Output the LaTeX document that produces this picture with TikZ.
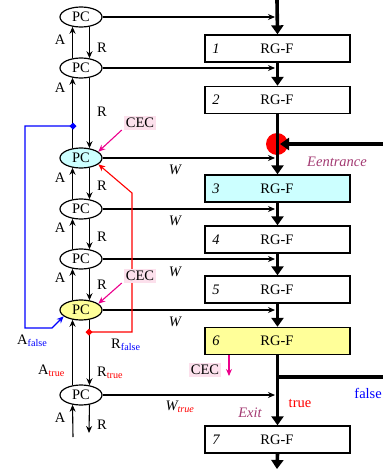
\documentclass[tikz,border=0pt]{standalone}
\usepackage{fontspec}
\setmainfont{Liberation Serif}
\usetikzlibrary{arrows.meta,shapes.geometric}
\definecolor{cyanfill}{HTML}{CCFFFF}
\definecolor{yelfill}{HTML}{FFFF99}
\definecolor{pinkbg}{HTML}{FCE0EC}
\definecolor{plum}{HTML}{A33A72}
\begin{document}
\begin{tikzpicture}[x=1pt,y=-1pt,
  every node/.style={font=\fontsize{14.5}{17}\selectfont},
  pc/.style={ellipse,draw,line width=1.2pt,minimum width=42pt,minimum height=20pt,inner sep=0pt,fill=white},
  rg/.style={draw,line width=1.4pt,minimum width=145pt,minimum height=27pt,inner sep=0pt},
  warrow/.style={line width=1.1pt,-{Stealth[length=7pt,width=6pt]}},
  mainarrow/.style={line width=3.6pt,-{Triangle[length=9pt,width=12pt]}},
  cec/.style={fill=pinkbg,inner sep=2pt},
  mag/.style={magenta,line width=1.1pt,-{Stealth[length=7pt,width=6pt]}},
  lbl/.style={inner sep=0pt},
]
\useasboundingbox (0,0) rectangle (383,469);
% main column boxes
\node[rg,fill=white]    (b1) at (277.5,48.5) {};
\node[rg,fill=white]    (b2) at (277.5,100) {};
\node[rg,fill=cyanfill] (b3) at (277.5,188.5) {};
\node[rg,fill=white]    (b4) at (277.5,239.5) {};
\node[rg,fill=white]    (b5) at (277.5,289.5) {};
\node[rg,fill=yelfill]  (b6) at (277.5,341) {};
\node[rg,fill=white]    (b7) at (277.5,439.5) {};
\foreach \i/\y in {1/48.5,2/100,3/188.5,4/239.5,5/289.5,6/341,7/439.5}{
  \node[lbl] (n\i) at (216,\y) {\itshape \i};
  \node[lbl] (t\i) at (277,\y) {RG-F};
}
% red entrance dot
\node[circle,fill=red,minimum size=22pt,inner sep=0pt] (dot) at (277,144) {};
% main thick line
\coordinate (top) at (277,0);
\coordinate (bot) at (277,469);
\coordinate (br) at (277,377);
\coordinate (brR) at (383,377);
\coordinate (entr) at (383,144);
\draw[mainarrow] (top) -- (b1.north);
\draw[mainarrow] (b1.south) -- (b2.north);
\draw[mainarrow] (b2.south) -- (b3.north);
\draw[mainarrow] (b3.south) -- (b4.north);
\draw[mainarrow] (b4.south) -- (b5.north);
\draw[mainarrow] (b5.south) -- (b6.north);
\draw[mainarrow] (b6.south) -- (b7.north);
\draw[mainarrow] (b7.south) -- (bot);
\draw[line width=3.6pt] (br) -- (brR);
\draw[mainarrow] (entr) -- ([xshift=3pt]dot.center);
\node[lbl,text=plum] (ent) at (337,162) {\itshape Eentrance};
\node[lbl,text=plum] (exit) at (250,413) {\itshape Exit};
\node[lbl,text=red] (tru) at (300,403) {true};
\node[lbl,text=blue,anchor=east] (fal) at (382,393) {false};
% PC column
\node[pc] (pc0) at (81,17) {PC};
\node[pc] (pc1) at (81,68) {PC};
\node[pc,fill=cyanfill] (pc2) at (81,158) {PC};
\node[pc] (pc3) at (81,209) {PC};
\node[pc] (pc4) at (81,259) {PC};
\node[pc,fill=yelfill] (pc5) at (81,310) {PC};
\node[pc] (pc6) at (81,395) {PC};
% W arrows
\coordinate (ax) at (275,0);
\foreach \p in {pc0,pc1,pc2,pc3,pc4,pc5,pc6}{
  \draw[warrow] (\p.east) -- (\p.east -| ax);
}
\foreach \i/\y in {1/170,2/221,3/272,4/322}{
  \node[lbl] (w\i) at (175,\y) {\itshape W};
}
\node[lbl] (wt) at (180,407) {\itshape W\textsubscript{\textcolor{red}{true}}};
% A and R arrows
\foreach \a/\b in {pc1/pc0,pc2/pc1,pc3/pc2,pc4/pc3,pc5/pc4,pc6/pc5}{
  \draw[warrow] (\a.131) -- (\b.229);
  \draw[warrow] (\b.311) -- (\a.49);
}
\coordinate (abot) at (73,437);
\coordinate (rbot) at (89,433);
\draw[warrow] (abot) -- (pc6.229);
\draw[warrow] (pc6.311) -- (rbot);
% A/R labels
\foreach \i/\ya/\yr in {0/40/48,1/88/112,2/178/186,3/228/237,4/278/285,6/418/425}{
  \node[lbl] (la\i) at (60,\ya) {A};
  \node[lbl] (lr\i) at (102,\yr) {R};
}
\node[lbl,anchor=west] (laf) at (17,341) {A\textsubscript{\textcolor{blue}{false}}};
\node[lbl,anchor=west] (lrf) at (111,345) {R\textsubscript{\textcolor{blue}{false}}};
\node[lbl,anchor=west] (lat) at (38,371) {A\textsubscript{\textcolor{red}{true}}};
\node[lbl,anchor=west] (lrt) at (97,373) {R\textsubscript{\textcolor{red}{true}}};
% blue feedback
\coordinate (bd) at (73,126);
\coordinate (bl1) at (25,126);
\coordinate (bl2) at (25,328);
\coordinate (bl3) at (52,328);
\draw[blue,line width=1.1pt,-{Stealth[length=7pt,width=6pt]}] (bd) -- (bl1) -- (bl2) -- (bl3) -- (pc5.200);
\fill[blue] (bd) +(-3.5,0) -- +(0,-3.5) -- +(3.5,0) -- +(0,3.5) -- cycle;
% red feedback
\coordinate (rd) at (89,332);
\coordinate (rl1) at (132,332);
\coordinate (rl2) at (132,193);
\draw[red,line width=1.1pt,-{Stealth[length=7pt,width=6pt]}] (rd) -- (rl1) -- (rl2) -- (pc2.340);
\fill[red] (rd) +(-3.5,0) -- +(0,-3.5) -- +(3.5,0) -- +(0,3.5) -- cycle;
% CEC labels
\node[cec] (c1) at (140,123) {CEC};
\node[cec] (c2) at (140,276) {CEC};
\node[cec] (c3) at (205,370) {CEC};
\draw[mag] (c1.south west) ++(-2,0) coordinate (c1s) (c1s) -- (pc2.20);
\draw[mag] (c2.south west) ++(-2,0) coordinate (c2s) (c2s) -- (pc5.20);
\coordinate (m3) at (229,376);
\draw[mag] (b6.south -| m3) -- (m3);
\end{tikzpicture}
\end{document}
